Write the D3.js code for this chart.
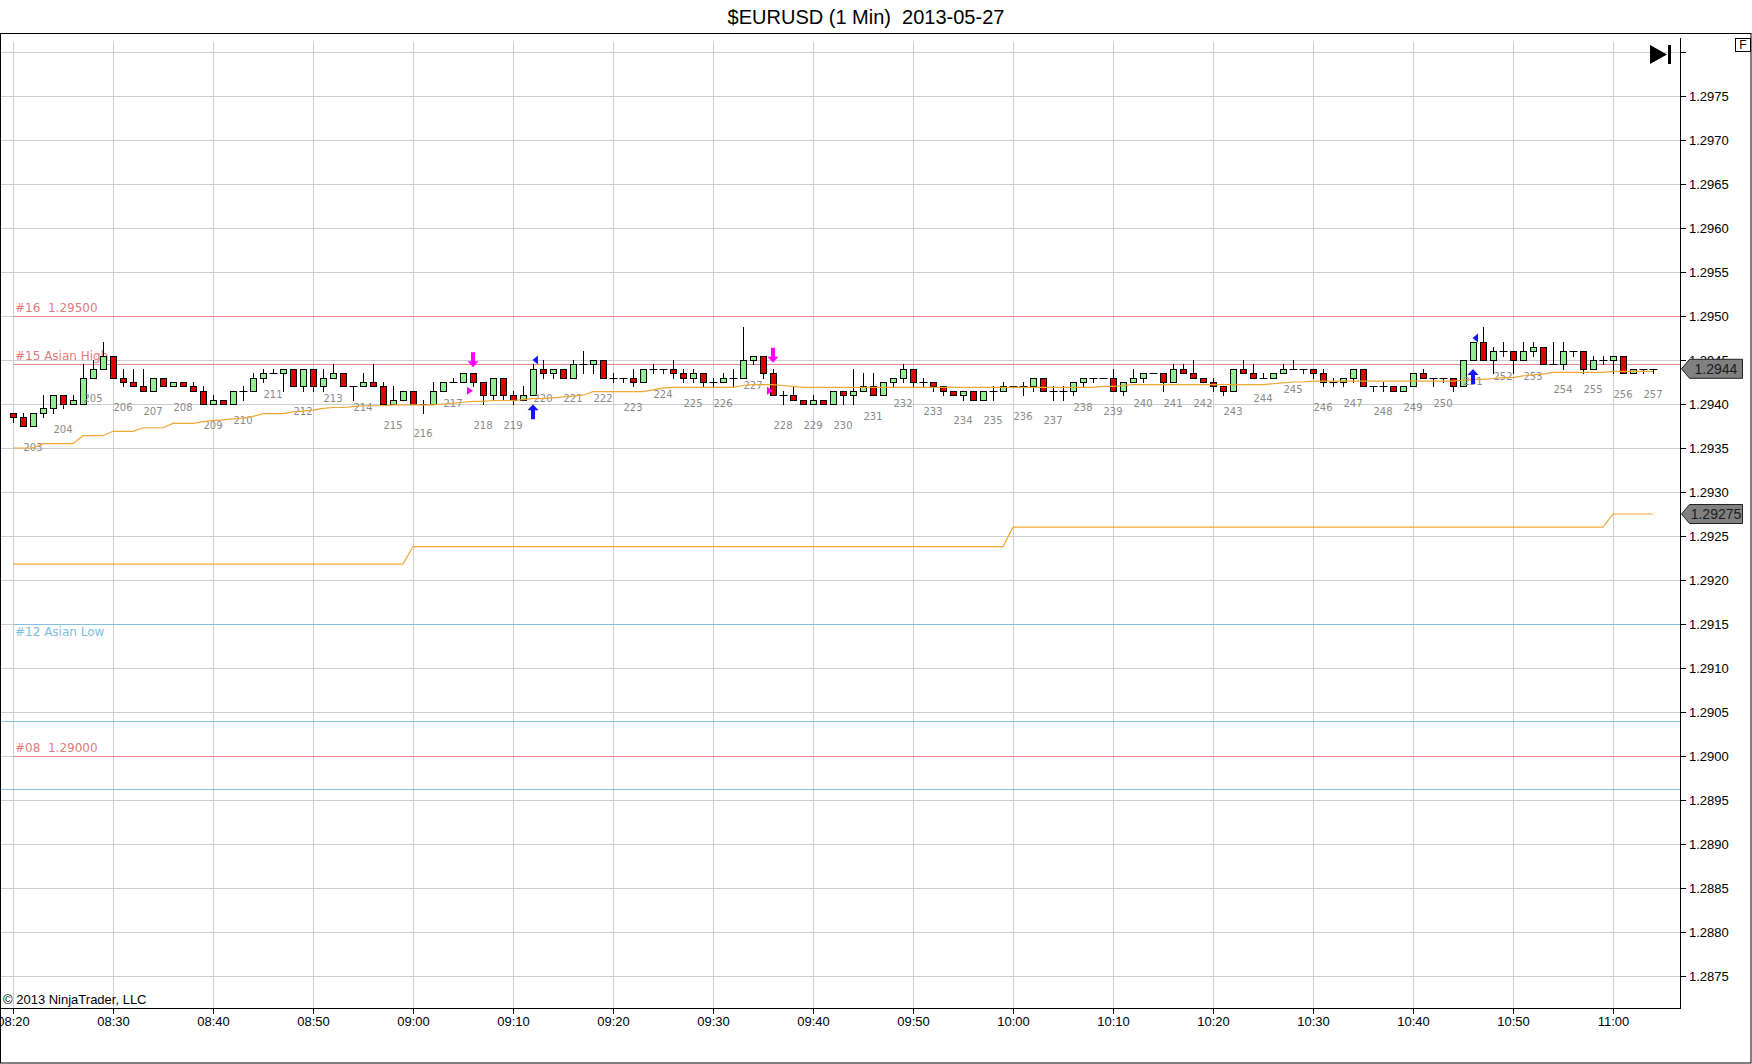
<!DOCTYPE html>
<html>
<head>
<meta charset="utf-8">
<script src="https://cdn.jsdelivr.net/npm/d3@7/dist/d3.min.js"></script>
<style>
html,body{margin:0;padding:0;background:#fff;}
svg{display:block;}
</style>
</head>
<body>
<svg id="chart" width="1752" height="1064"></svg>
<script>
// ---------------- DATA ----------------
const chartTitle = "$EURUSD (1 Min)  2013-05-27";
const copyrightText = "\u00a9 2013 NinjaTrader, LLC";
const sessionDate = [2013, 4, 27];
const firstBarTime = "08:20";

// one-minute bars: [open, high, low, close]
const bars = [
[1.29390,1.29390,1.29380,1.29385],[1.29385,1.29390,1.29375,1.29375],[1.29375,1.29390,1.29375,1.29390],[1.29390,1.29410,1.29385,1.29395],[1.29395,1.29410,1.29390,1.29410],
[1.29410,1.29410,1.29395,1.29400],[1.29400,1.29410,1.29400,1.29405],[1.29400,1.29445,1.29400,1.29430],[1.29430,1.29450,1.29430,1.29440],[1.29440,1.29470,1.29440,1.29455],
[1.29455,1.29455,1.29430,1.29430],[1.29430,1.29440,1.29420,1.29425],[1.29425,1.29440,1.29420,1.29420],[1.29420,1.29440,1.29415,1.29415],[1.29415,1.29430,1.29415,1.29430],
[1.29430,1.29430,1.29420,1.29420],[1.29420,1.29425,1.29420,1.29425],[1.29425,1.29425,1.29420,1.29420],[1.29420,1.29425,1.29415,1.29415],[1.29415,1.29420,1.29400,1.29400],
[1.29400,1.29410,1.29400,1.29405],[1.29405,1.29405,1.29400,1.29400],[1.29400,1.29415,1.29400,1.29415],[1.29415,1.29420,1.29405,1.29415],[1.29415,1.29435,1.29415,1.29430],
[1.29430,1.29440,1.29425,1.29435],[1.29435,1.29440,1.29435,1.29435],[1.29435,1.29440,1.29415,1.29440],[1.29440,1.29440,1.29420,1.29420],[1.29420,1.29440,1.29415,1.29440],
[1.29440,1.29440,1.29415,1.29420],[1.29420,1.29440,1.29415,1.29430],[1.29430,1.29445,1.29430,1.29435],[1.29435,1.29435,1.29420,1.29420],[1.29420,1.29420,1.29405,1.29420],
[1.29420,1.29435,1.29420,1.29425],[1.29425,1.29445,1.29420,1.29420],[1.29420,1.29425,1.29400,1.29400],[1.29400,1.29420,1.29400,1.29405],[1.29405,1.29415,1.29405,1.29415],
[1.29415,1.29415,1.29400,1.29400],[1.29400,1.29405,1.29390,1.29400],[1.29400,1.29425,1.29400,1.29415],[1.29415,1.29425,1.29415,1.29425],[1.29425,1.29430,1.29425,1.29425],
[1.29425,1.29435,1.29425,1.29435],[1.29435,1.29435,1.29420,1.29425],[1.29425,1.29425,1.29400,1.29410],[1.29410,1.29430,1.29405,1.29430],[1.29430,1.29430,1.29405,1.29410],
[1.29410,1.29415,1.29400,1.29405],[1.29405,1.29420,1.29405,1.29410],[1.29410,1.29445,1.29410,1.29440],[1.29440,1.29450,1.29430,1.29435],[1.29435,1.29440,1.29430,1.29440],
[1.29440,1.29440,1.29430,1.29430],[1.29430,1.29450,1.29430,1.29445],[1.29445,1.29460,1.29435,1.29445],[1.29445,1.29450,1.29435,1.29450],[1.29450,1.29450,1.29430,1.29430],
[1.29430,1.29435,1.29425,1.29430],[1.29430,1.29430,1.29425,1.29430],[1.29430,1.29440,1.29420,1.29425],[1.29425,1.29440,1.29425,1.29440],[1.29440,1.29445,1.29435,1.29440],
[1.29440,1.29440,1.29435,1.29440],[1.29440,1.29450,1.29430,1.29435],[1.29435,1.29440,1.29425,1.29430],[1.29430,1.29440,1.29425,1.29435],[1.29435,1.29435,1.29420,1.29425],
[1.29425,1.29430,1.29420,1.29425],[1.29425,1.29435,1.29425,1.29430],[1.29430,1.29440,1.29420,1.29430],[1.29430,1.29487,1.29430,1.29450],[1.29450,1.29455,1.29445,1.29455],
[1.29455,1.29455,1.29430,1.29435],[1.29435,1.29440,1.29410,1.29410],[1.29410,1.29415,1.29400,1.29410],[1.29410,1.29420,1.29405,1.29405],[1.29405,1.29405,1.29400,1.29400],
[1.29400,1.29410,1.29400,1.29405],[1.29405,1.29405,1.29400,1.29400],[1.29400,1.29415,1.29400,1.29415],[1.29415,1.29415,1.29400,1.29410],[1.29410,1.29440,1.29400,1.29415],
[1.29415,1.29435,1.29415,1.29420],[1.29420,1.29435,1.29410,1.29410],[1.29410,1.29425,1.29410,1.29425],[1.29425,1.29430,1.29420,1.29430],[1.29430,1.29445,1.29425,1.29440],
[1.29440,1.29440,1.29420,1.29425],[1.29425,1.29430,1.29420,1.29425],[1.29425,1.29425,1.29415,1.29420],[1.29420,1.29420,1.29410,1.29415],[1.29415,1.29415,1.29410,1.29410],
[1.29410,1.29415,1.29405,1.29415],[1.29415,1.29415,1.29405,1.29405],[1.29405,1.29415,1.29405,1.29415],[1.29415,1.29420,1.29405,1.29415],[1.29415,1.29425,1.29415,1.29420],
[1.29420,1.29420,1.29420,1.29420],[1.29420,1.29425,1.29410,1.29420],[1.29420,1.29430,1.29415,1.29430],[1.29430,1.29430,1.29415,1.29415],[1.29415,1.29420,1.29405,1.29415],
[1.29415,1.29420,1.29405,1.29415],[1.29415,1.29425,1.29410,1.29425],[1.29425,1.29430,1.29420,1.29430],[1.29430,1.29430,1.29425,1.29430],[1.29430,1.29430,1.29430,1.29430],
[1.29430,1.29440,1.29415,1.29415],[1.29415,1.29425,1.29410,1.29425],[1.29425,1.29440,1.29425,1.29430],[1.29430,1.29435,1.29425,1.29435],[1.29435,1.29435,1.29435,1.29435],
[1.29435,1.29435,1.29415,1.29425],[1.29425,1.29445,1.29425,1.29440],[1.29440,1.29445,1.29435,1.29435],[1.29435,1.29450,1.29430,1.29430],[1.29430,1.29430,1.29425,1.29425],
[1.29425,1.29430,1.29415,1.29420],[1.29420,1.29420,1.29410,1.29415],[1.29415,1.29440,1.29415,1.29440],[1.29440,1.29450,1.29435,1.29435],[1.29435,1.29445,1.29430,1.29430],
[1.29430,1.29435,1.29430,1.29430],[1.29430,1.29435,1.29430,1.29435],[1.29435,1.29445,1.29435,1.29440],[1.29440,1.29450,1.29440,1.29440],[1.29440,1.29440,1.29435,1.29440],
[1.29440,1.29440,1.29430,1.29435],[1.29435,1.29440,1.29420,1.29425],[1.29425,1.29430,1.29420,1.29425],[1.29425,1.29430,1.29420,1.29430],[1.29430,1.29440,1.29425,1.29440],
[1.29440,1.29440,1.29420,1.29420],[1.29420,1.29420,1.29415,1.29420],[1.29420,1.29425,1.29415,1.29420],[1.29420,1.29420,1.29415,1.29415],[1.29415,1.29420,1.29415,1.29420],
[1.29420,1.29435,1.29420,1.29435],[1.29435,1.29440,1.29430,1.29430],[1.29430,1.29430,1.29420,1.29430],[1.29430,1.29430,1.29425,1.29430],[1.29430,1.29430,1.29415,1.29420],
[1.29420,1.29450,1.29420,1.29450],[1.29450,1.29470,1.29450,1.29470],[1.29470,1.29487,1.29450,1.29450],[1.29450,1.29465,1.29435,1.29460],[1.29460,1.29470,1.29455,1.29460],
[1.29460,1.29460,1.29435,1.29450],[1.29450,1.29470,1.29450,1.29460],[1.29460,1.29470,1.29455,1.29465],[1.29465,1.29465,1.29445,1.29445],[1.29445,1.29470,1.29445,1.29445],
[1.29445,1.29470,1.29440,1.29460],[1.29460,1.29460,1.29455,1.29460],[1.29460,1.29460,1.29435,1.29440],[1.29440,1.29455,1.29440,1.29450],[1.29450,1.29455,1.29445,1.29450],
[1.29450,1.29455,1.29435,1.29455],[1.29455,1.29455,1.29435,1.29435],[1.29435,1.29440,1.29435,1.29440],[1.29440,1.29440,1.29435,1.29440],[1.29440,1.29440,1.29435,1.29440]
];

// upper orange indicator line, one value per bar
const avgLine = [
1.29350,1.29350,1.29350,1.29355,1.29355,1.29355,1.29355,1.29364,1.29364,1.29364,
1.29369,1.29369,1.29369,1.29373,1.29373,1.29373,1.29378,1.29378,1.29378,1.29380,
1.29381,1.29382,1.29383,1.29384,1.29386,1.29389,1.29389,1.29389,1.29391,1.29392,
1.29393,1.29395,1.29396,1.29396,1.29397,1.29398,1.29398,1.29398,1.29399,1.29399,
1.29399,1.29399,1.29399,1.29400,1.29401,1.29402,1.29403,1.29403,1.29404,1.29404,
1.29404,1.29405,1.29406,1.29406,1.29407,1.29408,1.29409,1.29410,1.29414,1.29414,
1.29414,1.29414,1.29414,1.29414,1.29416,1.29418,1.29419,1.29419,1.29419,1.29419,
1.29419,1.29419,1.29419,1.29421,1.29422,1.29422,1.29422,1.29421,1.29420,1.29419,
1.29419,1.29419,1.29419,1.29419,1.29419,1.29419,1.29419,1.29419,1.29419,1.29419,
1.29419,1.29419,1.29419,1.29419,1.29419,1.29419,1.29419,1.29419,1.29419,1.29419,
1.29419,1.29419,1.29419,1.29419,1.29419,1.29419,1.29419,1.29419,1.29419,1.29420,
1.29420,1.29421,1.29422,1.29422,1.29422,1.29422,1.29422,1.29422,1.29422,1.29422,
1.29422,1.29422,1.29422,1.29422,1.29422,1.29422,1.29423,1.29424,1.29425,1.29425,
1.29426,1.29426,1.29426,1.29426,1.29426,1.29426,1.29426,1.29426,1.29426,1.29426,
1.29426,1.29426,1.29426,1.29426,1.29426,1.29427,1.29428,1.29428,1.29429,1.29430,
1.29430,1.29432,1.29433,1.29434,1.29436,1.29436,1.29436,1.29436,1.29436,1.29436,
1.29437,1.29437,1.29437,1.29437,1.29437
];

// lower orange session line (vertices)
const sessionTimes  = ["08:20","08:59","09:00","09:59","10:00","10:59","11:00","11:04"];
const sessionValues = [1.29218,1.29218,1.29238,1.29238,1.29260,1.29260,1.29275,1.29275];

// horizontal drawn levels
const levelValues = [1.29500, 1.29445, 1.29150, 1.29040, 1.29000, 1.28963];
const levelLabels = ["#16  1.29500", "#15 Asian High", "#12 Asian Low", "", "#08  1.29000", ""];
const levelKinds  = ["price", "high", "low", "band", "price", "band"];

// axes
const yTickValues = [1.2875,1.2880,1.2885,1.2890,1.2895,1.2900,1.2905,1.2910,1.2915,1.2920,1.2925,
  1.2930,1.2935,1.2940,1.2945,1.2950,1.2955,1.2960,1.2965,1.2970,1.2975,1.2980];
const yLabelMax = 1.2975;
const xTickLabels = ["08:20","08:30","08:40","08:50","09:00","09:10","09:20","09:30","09:40",
  "09:50","10:00","10:10","10:20","10:30","10:40","10:50","11:00"];

// bar numbering
const firstBarNumber = 203;
const barNumberStep = 3;
const barNumberFirstIndex = 2;

// signals
const entryTimes = ["09:12","10:46"];
const exitTimes  = ["09:06","09:36"];
const exitPrices = [1.29415, 1.29415];

// right-axis price markers
const markerValues = [1.29440, 1.29275];
const markerLabels = ["1.2944", "1.29275"];

// ---------------- DRAW ----------------
const W = 1752, H = 1064;
const plotL = 1, plotR = 1680, plotT = 34, plotB = 1008;
const svg = d3.select("#chart");
const AX = "'Liberation Sans', Arial, sans-serif";
const VD = "'DejaVu Sans', Verdana, sans-serif";

const parseTime = s => { const [h, m] = s.split(":").map(Number); return new Date(sessionDate[0], sessionDate[1], sessionDate[2], h, m); };
const t0 = parseTime(firstBarTime);
const barTimes = bars.map((_, i) => d3.timeMinute.offset(t0, i));

const x = d3.scaleTime().domain([parseTime("08:20"), parseTime("11:00")]).range([13, 1613]);
const y = d3.scaleLinear().domain([1.2875, 1.2975]).range([976, 96]);
const px = v => Math.round(v) + 0.5;

svg.append("rect").attr("width", W).attr("height", H).attr("fill", "#fff");

// title
svg.append("text").attr("x", 866).attr("y", 24).attr("text-anchor", "middle")
  .attr("font-family", AX).attr("font-size", 20).attr("fill", "#000")
  .attr("xml:space", "preserve").style("white-space", "pre").text(chartTitle);

const defs = svg.append("defs");
defs.append("clipPath").attr("id", "plotclip").append("rect")
  .attr("x", plotL).attr("y", plotT).attr("width", plotR - plotL).attr("height", plotB - plotT);

const plot = svg.append("g").attr("clip-path", "url(#plotclip)");

// gridlines
plot.append("g").selectAll("line").data(yTickValues).join("line")
  .attr("x1", 0).attr("x2", plotR).attr("y1", d => px(y(d))).attr("y2", d => px(y(d)))
  .attr("stroke", "#cdcdcd").attr("stroke-width", 1);
plot.append("g").selectAll("line").data(xTickLabels).join("line")
  .attr("x1", d => px(x(parseTime(d)))).attr("x2", d => px(x(parseTime(d))))
  .attr("y1", 42).attr("y2", plotB)
  .attr("stroke", "#cdcdcd").attr("stroke-width", 1);

// levels
const levelStroke = k => (k === "price" || k === "high") ? "#e6868a" : "#86c0de";
const levelText = k => (k === "price" || k === "high") ? "#e27a7e" : "#7dbde0";
plot.append("g").selectAll("line").data(levelValues).join("line")
  .attr("x1", (d, i) => (levelKinds[i] === "band") ? 0 : px(x(t0)))
  .attr("x2", plotR)
  .attr("y1", d => px(y(d))).attr("y2", d => px(y(d)))
  .attr("stroke", (d, i) => levelStroke(levelKinds[i])).attr("stroke-width", 1);
plot.append("g").selectAll("text").data(levelValues).join("text")
  .attr("x", x(t0) + 2)
  .attr("y", (d, i) => levelKinds[i] === "low" ? y(d) + 12 : y(d) - 4)
  .attr("font-family", VD).attr("font-size", 12)
  .attr("fill", (d, i) => levelText(levelKinds[i]))
  .attr("xml:space", "preserve").style("white-space", "pre")
  .text((d, i) => levelLabels[i]);

// candles
const cg = plot.append("g");
bars.forEach((b, i) => {
  const [o, h, l, c] = b;
  const cx = px(x(barTimes[i]));
  cg.append("line").attr("x1", cx).attr("x2", cx)
    .attr("y1", Math.round(y(h))).attr("y2", Math.round(y(l)) + 1)
    .attr("stroke", "#000").attr("stroke-width", 1);
  if (o === c) {
    cg.append("line").attr("x1", cx - 4).attr("x2", cx + 4)
      .attr("y1", px(y(o))).attr("y2", px(y(o)))
      .attr("stroke", "#000").attr("stroke-width", 1);
  } else {
    const yt = px(y(Math.max(o, c))), yb = px(y(Math.min(o, c)));
    cg.append("rect").attr("x", cx - 3).attr("y", yt).attr("width", 6)
      .attr("height", Math.max(1, yb - yt))
      .attr("fill", c > o ? "#90ee90" : "#e00000")
      .attr("stroke", "#000").attr("stroke-width", 1);
  }
});

// bar numbers
const bn = plot.append("g");
bars.forEach((b, i) => {
  if (i < barNumberFirstIndex || (i - barNumberFirstIndex) % barNumberStep !== 0) return;
  const n = firstBarNumber + (i - barNumberFirstIndex) / barNumberStep;
  bn.append("text").attr("x", x(barTimes[i])).attr("y", y(b[2]) + 21)
    .attr("dy", "0.36em").attr("text-anchor", "middle")
    .attr("font-family", VD).attr("font-size", 10).attr("fill", "#8a8a8a").text(n);
});

// orange lines
plot.append("path").datum(avgLine)
  .attr("d", d3.line().x((d, i) => x(barTimes[i])).y(d => y(d)))
  .attr("fill", "none").attr("stroke", "#f0a635").attr("stroke-width", 1.2);
plot.append("path").datum(sessionValues)
  .attr("d", d3.line().x((d, i) => x(parseTime(sessionTimes[i]))).y(d => y(d)))
  .attr("fill", "none").attr("stroke", "#f0a635").attr("stroke-width", 1.2);

// signals
const barIndexAt = s => Math.round((parseTime(s) - t0) / 60000);
entryTimes.forEach(s => {
  const i = barIndexAt(s), b = bars[i], cx = x(barTimes[i]);
  const yl = y(b[2]), yh = y(b[1]);
  const top = yl + 9;
  plot.append("path")
    .attr("d", `M${cx},${top} L${cx + 5.5},${top + 6} L${cx + 2},${top + 6} L${cx + 2},${top + 15} L${cx - 2},${top + 15} L${cx - 2},${top + 6} L${cx - 5.5},${top + 6} Z`)
    .attr("fill", "#1515ff");
  plot.append("path")
    .attr("d", `M${cx - 0.5},${yh - 4.5} L${cx + 5},${yh - 9} L${cx + 5},${yh} Z`)
    .attr("fill", "#1515ff");
});
exitTimes.forEach((s, k) => {
  const i = barIndexAt(s), b = bars[i], cx = x(barTimes[i]);
  const yh = y(b[1]);
  const bot = yh - 6;
  plot.append("path")
    .attr("d", `M${cx},${bot} L${cx + 5.5},${bot - 6} L${cx + 2},${bot - 6} L${cx + 2},${bot - 15} L${cx - 2},${bot - 15} L${cx - 2},${bot - 6} L${cx - 5.5},${bot - 6} Z`)
    .attr("fill", "#ff00ff");
  const ye = y(exitPrices[k]);
  plot.append("path")
    .attr("d", `M${cx - 6},${ye - 4} L${cx},${ye} L${cx - 6},${ye + 4} Z`)
    .attr("fill", "#ff00ff");
});

// axes
const yAxis = svg.append("g").attr("transform", `translate(${plotR},0)`)
  .call(d3.axisRight(y).tickValues(yTickValues).tickSize(6).tickPadding(3)
    .tickFormat(v => v > yLabelMax + 1e-9 ? "" : d3.format(".4f")(v)));
yAxis.select(".domain").remove();
yAxis.selectAll(".tick line").attr("stroke", "#000");
yAxis.selectAll(".tick text").attr("font-family", AX).attr("font-size", 13).attr("fill", "#000");

const xAxis = svg.append("g").attr("transform", `translate(0,${plotB})`)
  .call(d3.axisBottom(x).tickValues(xTickLabels.map(parseTime)).tickSize(6).tickPadding(3)
    .tickFormat(d3.timeFormat("%H:%M")));
xAxis.select(".domain").remove();
xAxis.selectAll(".tick line").attr("stroke", "#000");
xAxis.selectAll(".tick text").attr("font-family", AX).attr("font-size", 13).attr("fill", "#000");

// frame lines
svg.append("line").attr("x1", px(plotR)).attr("x2", px(plotR)).attr("y1", 38).attr("y2", plotB + 1)
  .attr("stroke", "#000");
svg.append("line").attr("x1", 0).attr("x2", plotR + 1).attr("y1", px(plotB)).attr("y2", px(plotB))
  .attr("stroke", "#000");
svg.append("rect").attr("x", 0.5).attr("y", 33.5).attr("width", W - 1.5).attr("height", H - 34.5)
  .attr("fill", "none").attr("stroke", "#000");

// price markers
markerValues.forEach((v, k) => {
  const yc = y(v);
  svg.append("path")
    .attr("d", `M${plotR + 1.5},${yc} L${plotR + 9.5},${yc - 9.5} L${plotR + 62.5},${yc - 9.5} L${plotR + 62.5},${yc + 9.5} L${plotR + 9.5},${yc + 9.5} Z`)
    .attr("fill", "#808080").attr("stroke", "#222").attr("stroke-width", 1);
  svg.append("text").attr("x", plotR + 36).attr("y", yc).attr("dy", "0.36em")
    .attr("text-anchor", "middle").attr("font-family", AX).attr("font-size", 14)
    .attr("fill", "#1a1a1a").text(markerLabels[k]);
});

// top-right icons
svg.append("path").attr("d", "M1650,45 L1667,54.5 L1650,64 Z").attr("fill", "#000");
svg.append("rect").attr("x", 1668).attr("y", 45).attr("width", 3).attr("height", 19).attr("fill", "#000");
svg.append("rect").attr("x", 1735.5).attr("y", 38.5).attr("width", 15).attr("height", 13)
  .attr("fill", "#fff").attr("stroke", "#000");
svg.append("text").attr("x", 1743).attr("y", 49).attr("text-anchor", "middle")
  .attr("font-family", AX).attr("font-size", 12).attr("fill", "#000").text("F");

// copyright
svg.append("text").attr("x", 3).attr("y", 1004).attr("font-family", AX).attr("font-size", 13)
  .attr("fill", "#000").text(copyrightText);
</script>
</body>
</html>
